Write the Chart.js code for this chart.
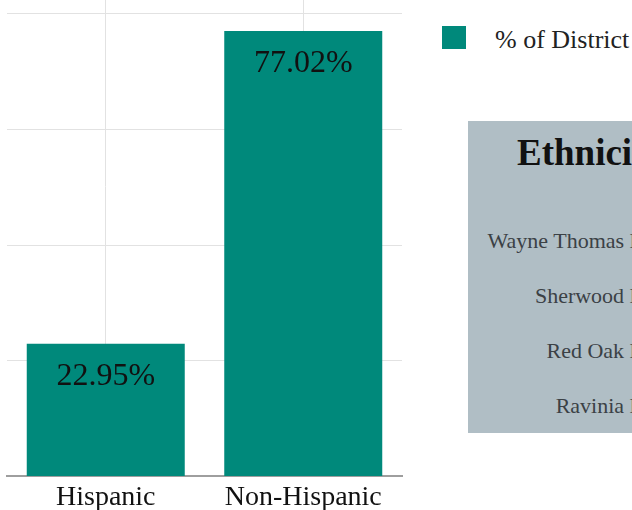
<!DOCTYPE html>
<html>
<head>
<meta charset="utf-8">
<script src="https://cdn.jsdelivr.net/npm/chart.js@4.4.0/dist/chart.umd.min.js"></script>
<style>
  body { margin:0; width:632px; height:510px; overflow:hidden; background:#fff; position:relative;
         font-family:"Liberation Serif","Times New Roman",serif; }
  #chartBox { position:absolute; left:0; top:-112px; width:410px; height:630px; }
  #legend { position:absolute; left:442px; top:26px; white-space:nowrap; }
  .legend-item { display:flex; align-items:center; }
  .legend-swatch { width:24px; height:23px; display:inline-block; }
  .legend-text { font-size:26px; color:#222; margin-left:29px; line-height:23px; position:relative; top:2px; }
  #schools { position:absolute; left:468px; top:121px; width:300px; height:312px; background:#b0bec5; }
  #schools h2 { position:absolute; left:49px; top:12px; margin:0; font-size:37px; line-height:40px;
                font-weight:bold; color:#111; white-space:nowrap; }
  #schoolList { position:absolute; right:37px; top:92px; margin:0; padding:0; list-style:none; text-align:right; }
  #schoolList li { font-size:22px; line-height:55px; color:#3b4145; white-space:nowrap; }
</style>
</head>
<body>
<div id="chartBox"><canvas id="ethnicityChart"></canvas></div>
<div id="legend"></div>
<div id="schools">
  <h2>Ethnicity by School</h2>
  <ul id="schoolList"></ul>
</div>
<script>
const categories = ['Hispanic', 'Non-Hispanic'];
const districtPct = [22.95, 77.02];
const seriesLabel = '% of District';
const yTicks = [0, 20, 40, 60, 80, 100];
const schools = ['Wayne Thomas Elementary', 'Sherwood Elementary', 'Red Oak Elementary', 'Ravinia Elementary'];

const teal = '#00897b';
const serif = '"Liberation Serif", "Times New Roman", serif';

// percentage written inside the top of each bar
const barValueLabels = {
    id:'barValueLabels',
    afterDatasetsDraw(chart){
        const ctx = chart.ctx;
        const meta = chart.getDatasetMeta(0);
        ctx.save();
        ctx.font = '32px ' + serif;
        ctx.fillStyle = '#111';
        ctx.textAlign = 'center';
        ctx.textBaseline = 'alphabetic';
        meta.data.forEach((bar, i) => {
            const v = chart.data.datasets[0].data[i];
            ctx.fillText(v.toFixed(2) + '%', bar.x, bar.y + 41);
        });
        ctx.restore();
    }
};

const ctx = document.getElementById('ethnicityChart').getContext('2d');
const chart = new Chart(ctx, {
    type:'bar',
    data:{
        labels:categories,
        datasets:[{
            label:seriesLabel,
            data:districtPct,
            backgroundColor:teal,
            borderWidth:0,
            barPercentage:0.8,
            categoryPercentage:1.0
        }]
    },
    options:{
        responsive:true,
        maintainAspectRatio:false,
        animation:false,
        layout:{padding:{left:7, right:8, top:10, bottom:0}},
        plugins:{legend:{display:false}, tooltip:{enabled:false}},
        scales:{
            x:{
                grid:{offset:false, color:'#e2e2e2', drawTicks:false},
                border:{color:'#9e9e9e', width:2},
                ticks:{color:'#111', padding:4, font:{family:serif, size:28}}
            },
            y:{
                min:yTicks[0],
                max:yTicks[yTicks.length - 1],
                afterBuildTicks(axis){ axis.ticks = yTicks.map(v => ({value:v})); },
                grid:{color:'#e2e2e2', drawTicks:false},
                border:{display:false},
                ticks:{display:false}
            }
        }
    },
    plugins:[barValueLabels]
});

// legend built from the dataset
document.getElementById('legend').innerHTML = chart.data.datasets.map(ds =>
    `<div class="legend-item"><span class="legend-swatch" style="background:${ds.backgroundColor}"></span><span class="legend-text">${ds.label}</span></div>`
).join('');

const list = document.getElementById('schoolList');
schools.forEach(s => list.innerHTML += `<li>${s}</li>`);
</script>
</body>
</html>
